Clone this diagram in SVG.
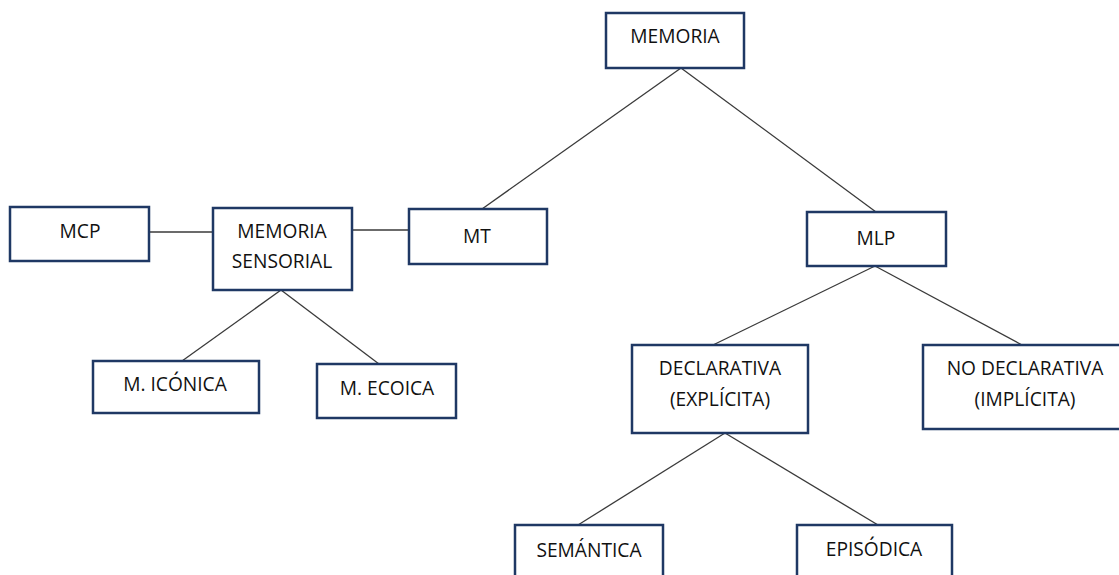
<svg xmlns="http://www.w3.org/2000/svg" width="1119" height="575" viewBox="0 0 1119 575">
<style>
.box{fill:#ffffff;stroke:#1f3864;stroke-width:2.5}
.lbl{font-family:"Open Sans","Noto Sans","Liberation Sans",sans-serif;font-size:19.2px;fill:#111111;text-anchor:middle}
.ln{stroke:#3a3a3a;stroke-width:1.3;fill:none}
</style>
<rect width="1119" height="575" fill="#ffffff"/>
<g id="connectors">
<line class="ln" x1="681" y1="68" x2="482" y2="209"/>
<line class="ln" x1="681" y1="68" x2="876" y2="212"/>
<line class="ln" x1="150" y1="232" x2="212" y2="232"/>
<line class="ln" x1="352" y1="230" x2="408" y2="230"/>
<line class="ln" x1="281" y1="290" x2="182" y2="361"/>
<line class="ln" x1="281" y1="290" x2="379" y2="364"/>
<line class="ln" x1="875" y1="266" x2="713" y2="345"/>
<line class="ln" x1="875" y1="266" x2="1022" y2="345"/>
<line class="ln" x1="725" y1="433" x2="578" y2="525"/>
<line class="ln" x1="725" y1="433" x2="878" y2="525"/>
</g>
<g id="memoria"><rect class="box" x="606" y="13" width="138" height="55"/><text class="lbl" x="675" y="43">MEMORIA</text></g>
<g id="mcp"><rect class="box" x="10" y="207" width="139" height="54"/><text class="lbl" x="80" y="238">MCP</text></g>
<g id="memoria-sensorial"><rect class="box" x="213" y="208" width="139" height="82"/><text class="lbl" x="282" y="238">MEMORIA</text><text class="lbl" x="282" y="268">SENSORIAL</text></g>
<g id="mt"><rect class="box" x="409" y="209" width="138" height="55"/><text class="lbl" x="477" y="243">MT</text></g>
<g id="mlp"><rect class="box" x="807" y="212" width="139" height="54"/><text class="lbl" x="876" y="245">MLP</text></g>
<g id="m-iconica"><rect class="box" x="93" y="361" width="166" height="52"/><text class="lbl" x="175" y="391">M. ICÓNICA</text></g>
<g id="m-ecoica"><rect class="box" x="317" y="364" width="139" height="54"/><text class="lbl" x="387" y="395">M. ECOICA</text></g>
<g id="declarativa"><rect class="box" x="632" y="345" width="176" height="88"/><text class="lbl" x="720" y="375">DECLARATIVA</text><text class="lbl" x="720" y="406">(EXPLÍCITA)</text></g>
<g id="no-declarativa"><rect class="box" x="923" y="345" width="198" height="84"/><text class="lbl" x="1025" y="375">NO DECLARATIVA</text><text class="lbl" x="1025" y="406">(IMPLÍCITA)</text></g>
<g id="semantica"><rect class="box" x="515" y="525" width="148" height="60"/><text class="lbl" x="589" y="557">SEMÁNTICA</text></g>
<g id="episodica"><rect class="box" x="797" y="525" width="155" height="60"/><text class="lbl" x="874" y="556">EPISÓDICA</text></g>
</svg>
